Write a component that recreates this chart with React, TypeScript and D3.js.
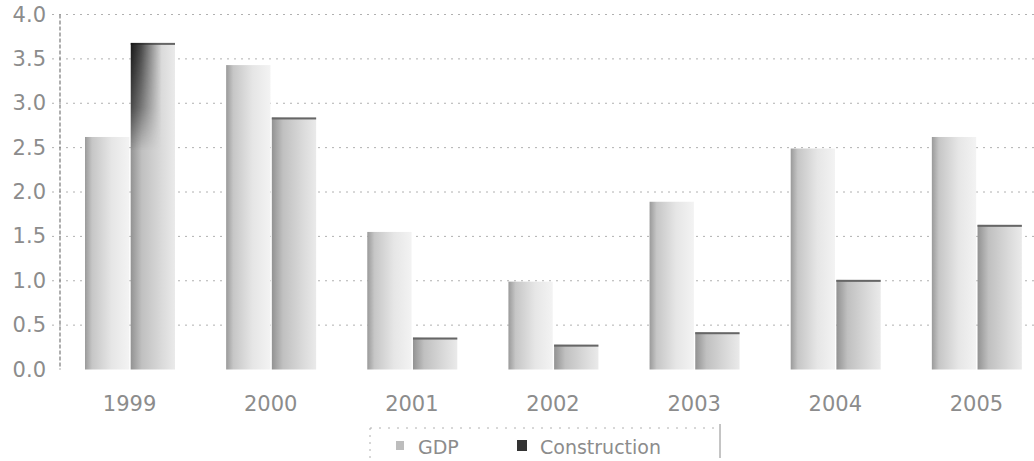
import React from "react";
import * as d3 from "d3";

const years = ["1999", "2000", "2001", "2002", "2003", "2004", "2005"];
const seriesNames = ["GDP", "Construction"];
const gdp = [2.62, 3.43, 1.55, 0.99, 1.89, 2.49, 2.62];
const construction = [3.68, 2.84, 0.36, 0.28, 0.42, 1.01, 1.63];
const yTicks = [0, 0.5, 1, 1.5, 2, 2.5, 3, 3.5, 4];

const W = 1034;
const H = 461;

export default function App() {
  const y = d3.scaleLinear().domain([0, 4]).range([369.5, 14.5]);
  const x = d3.scaleBand<string>().domain(years).range([59, 1047]).padding(0);
  const xs = d3.scaleBand<string>().domain(seriesNames).range([26, 116]).paddingInner(0.03);
  const values: Record<string, number[]> = { GDP: gdp, Construction: construction };
  const font = "'DejaVu Sans', sans-serif";
  const textFill = "#8c8c8c";

  return (
    <svg width={W} height={H} style={{ position: "absolute", left: 0, top: 0, background: "#fff" }}>
      <defs>
        <linearGradient id="gGDP" x1="0" x2="1" y1="0" y2="0">
          <stop offset="0%" stopColor="#9a9a9a" />
          <stop offset="16%" stopColor="#c6c6c6" />
          <stop offset="60%" stopColor="#e6e6e6" />
          <stop offset="100%" stopColor="#f3f3f3" />
        </linearGradient>
        <linearGradient id="gCon" x1="0" x2="1" y1="0" y2="0">
          <stop offset="0%" stopColor="#929292" />
          <stop offset="25%" stopColor="#c0c0c0" />
          <stop offset="70%" stopColor="#dadada" />
          <stop offset="100%" stopColor="#eaeaea" />
        </linearGradient>
        <linearGradient id="gDarkH" x1="0" x2="1" y1="0" y2="0">
          <stop offset="0%" stopColor="#111" stopOpacity="0.95" />
          <stop offset="35%" stopColor="#222" stopOpacity="0.75" />
          <stop offset="100%" stopColor="#444" stopOpacity="0" />
        </linearGradient>
        <linearGradient id="gMaskV" x1="0" x2="0" y1="0" y2="1">
          <stop offset="0%" stopColor="#fff" />
          <stop offset="60%" stopColor="#fff" stopOpacity="0.6" />
          <stop offset="100%" stopColor="#fff" stopOpacity="0" />
        </linearGradient>
        <mask id="mDark" maskContentUnits="objectBoundingBox">
          <rect x={0} y={0} width={1} height={1} fill="url(#gMaskV)" />
        </mask>
      </defs>
      {/* gridlines */}
      {yTicks.filter((t) => t > 0).map((t) => (
        <line
          key={"g" + t}
          x1={52}
          x2={W}
          y1={y(t)}
          y2={y(t)}
          stroke="#b0b0b0"
          strokeWidth={1}
          strokeDasharray="2 5"
        />
      ))}
      {/* y axis */}
      <line x1={60} x2={60} y1={y(4)} y2={y(0)} stroke="#7a7a7a" strokeWidth={1.2} strokeDasharray="4 2" />
      {yTicks.map((t) => (
        <text
          key={"t" + t}
          x={46}
          y={y(t)}
          textAnchor="end"
          dominantBaseline="central"
          fontFamily={font}
          fontSize={21}
          fill={textFill}
        >
          {t.toFixed(1)}
        </text>
      ))}
      {/* bars */}
      {years.map((yr, i) => (
        <g key={yr} transform={`translate(${x(yr)},0)`}>
          {seriesNames.map((s) => {
            const v = values[s][i];
            const bx = xs(s)!;
            const bw = xs.bandwidth();
            const top = y(v);
            const h = y(0) - top;
            return (
              <g key={s}>
                <rect x={bx} y={top} width={bw} height={h} fill={s === "GDP" ? "url(#gGDP)" : "url(#gCon)"} />
                {s === "Construction" && (
                  <rect x={bx} y={top} width={bw} height={2} fill="#666" />
                )}
                {s === "Construction" && i === 0 && (
                  <rect
                    x={bx}
                    y={top}
                    width={bw * 0.7}
                    height={h * 0.33}
                    fill="url(#gDarkH)"
                    mask="url(#mDark)"
                  />
                )}
              </g>
            );
          })}
          <text
            x={x.bandwidth() / 2}
            y={404}
            textAnchor="middle"
            dominantBaseline="central"
            fontFamily={font}
            fontSize={21}
            fill={textFill}
          >
            {yr}
          </text>
        </g>
      ))}
      {/* legend */}
      <g>
        <line x1={370} x2={720} y1={428} y2={428} stroke="#b0b0b0" strokeDasharray="2 7" />
        <line x1={370} x2={370} y1={428} y2={458} stroke="#b0b0b0" strokeDasharray="2 5" />
        <line x1={720} x2={720} y1={424} y2={458} stroke="#8a8a8a" strokeWidth={1} />
        <rect x={396} y={441} width={8} height={9} fill="#bdbdbd" />
        <text x={418} y={447} dominantBaseline="central" fontFamily={font} fontSize={19} fill={textFill}>
          GDP
        </text>
        <rect x={517} y={440} width={10} height={11} fill="#333" />
        <text x={540} y={447} dominantBaseline="central" fontFamily={font} fontSize={19} fill={textFill}>
          Construction
        </text>
      </g>
    </svg>
  );
}
